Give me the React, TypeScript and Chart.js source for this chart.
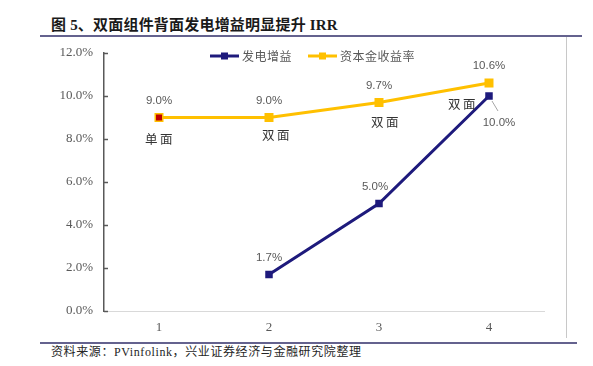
import React, { useEffect, useRef } from "react";
import { Chart, registerables } from "chart.js";

Chart.register(...registerables);

const categories = ["1", "2", "3", "4"];
const gainValues: (number | null)[] = [null, 1.7, 5.0, 10.0];
const irrValues = [9.0, 9.0, 9.7, 10.6];
const surfaceLabels = ["单面", "双面", "双面", "双面"];
const yTicks = [0, 2, 4, 6, 8, 10, 12];
const seriesNames = ["发电增益", "资本金收益率"];
const titleText = "图 5、双面组件背面发电增益明显提升 IRR";
const sourceText = "资料来源：PVinfolink，兴业证券经济与金融研究院整理";

const NAVY = "#1E1A7C";
const YELLOW = "#FFC000";
const RED = "#C00000";

// label offsets (dx, dy) relative to points
const irrLabelOffsets = [[0, -17], [0, -17], [0, -17], [0, -17]];
const surfaceOffsets = [[0, 22], [7, 18], [6, 20], [-27, 21]];
const gainLabelOffsets = [[0, 0], [0, -17], [-4, -17], [10, 27]];

const labelsPlugin = {
  id: "customLabels",
  afterDatasetsDraw(chart: any) {
    const ctx = chart.ctx;
    ctx.save();
    ctx.textAlign = "center";
    ctx.textBaseline = "middle";
    const gainMeta = chart.getDatasetMeta(0);
    const irrMeta = chart.getDatasetMeta(1);
    ctx.fillStyle = "#595959";
    ctx.font = "11.5px 'Liberation Sans', Arial, sans-serif";
    irrMeta.data.forEach((pt: any, i: number) => {
      const v = irrValues[i];
      ctx.fillText(v.toFixed(1) + "%", pt.x + irrLabelOffsets[i][0], pt.y + irrLabelOffsets[i][1]);
    });
    gainMeta.data.forEach((pt: any, i: number) => {
      const v = gainValues[i];
      if (v == null || pt.skip) return;
      ctx.fillText(v.toFixed(1) + "%", pt.x + gainLabelOffsets[i][0], pt.y + gainLabelOffsets[i][1]);
      if (i === 3) {
        ctx.strokeStyle = "#a6a6a6";
        ctx.lineWidth = 1;
        ctx.beginPath();
        ctx.moveTo(pt.x + 3, pt.y + 5);
        ctx.lineTo(pt.x + 9, pt.y + 15);
        ctx.stroke();
      }
    });
    ctx.fillStyle = "#333333";
    ctx.font = "12.5px 'Noto Sans CJK SC', sans-serif";
    (ctx as any).letterSpacing = "2.5px";
    irrMeta.data.forEach((pt: any, i: number) => {
      ctx.fillText(surfaceLabels[i], pt.x + surfaceOffsets[i][0] + 1, pt.y + surfaceOffsets[i][1]);
    });
    (ctx as any).letterSpacing = "0px";
    ctx.restore();
  },
};

const axisTicksPlugin = {
  id: "innerTicks",
  afterDraw(chart: any) {
    const ctx = chart.ctx;
    const y = chart.scales.y;
    ctx.save();
    ctx.strokeStyle = "#595959";
    ctx.lineWidth = 1.5;
    y.ticks.forEach((t: any) => {
      const py = Math.round(y.getPixelForValue(t.value)) + 0.5;
      ctx.beginPath();
      ctx.moveTo(y.right, py);
      ctx.lineTo(y.right + 4, py);
      ctx.stroke();
    });
    ctx.restore();
  },
};

const legendPlugin = {
  id: "customLegend",
  afterDraw(chart: any) {
    const ctx = chart.ctx;
    ctx.save();
    const cy = 56;
    const items = [
      { x0: 210, x1: 239, tx: 242, color: NAVY, name: seriesNames[0] },
      { x0: 308, x1: 337, tx: 340, color: YELLOW, name: seriesNames[1] },
    ];
    items.forEach((it) => {
      ctx.strokeStyle = it.color;
      ctx.lineWidth = 3;
      ctx.beginPath();
      ctx.moveTo(it.x0, cy);
      ctx.lineTo(it.x1, cy);
      ctx.stroke();
      ctx.fillStyle = it.color;
      const mx = (it.x0 + it.x1) / 2;
      ctx.fillRect(mx - 3.5, cy - 3.5, 7, 7);
      ctx.fillStyle = "#595959";
      ctx.font = "12px 'Noto Sans CJK SC', sans-serif";
      (ctx as any).letterSpacing = "0.5px";
      ctx.textAlign = "left";
      ctx.textBaseline = "middle";
      ctx.fillText(it.name, it.tx, cy);
    });
    ctx.restore();
  },
};

function App() {
  const canvasRef = useRef<HTMLCanvasElement | null>(null);

  useEffect(() => {
    if (!canvasRef.current) return;
    const chart = new Chart(canvasRef.current, {
      type: "line",
      data: {
        labels: categories,
        datasets: [
          {
            label: seriesNames[0],
            data: gainValues,
            borderColor: NAVY,
            backgroundColor: NAVY,
            borderWidth: 3,
            pointStyle: "rect",
            pointRadius: 5.3,
            pointBackgroundColor: NAVY,
            pointBorderColor: NAVY,
            pointBorderWidth: 0,
            tension: 0,
            spanGaps: false,
          },
          {
            label: seriesNames[1],
            data: irrValues,
            borderColor: YELLOW,
            backgroundColor: YELLOW,
            borderWidth: 3,
            pointStyle: "rect",
            pointRadius: 5.3,
            pointBackgroundColor: [RED, YELLOW, YELLOW, YELLOW],
            pointBorderColor: YELLOW,
            pointBorderWidth: 1.5,
            tension: 0,
          },
        ],
      },
      options: {
        responsive: false,
        animation: false,
        layout: { padding: { left: 0, right: 49, top: 53, bottom: 0 } },
        plugins: {
          legend: { display: false },
          tooltip: { enabled: false },
        },
        scales: {
          x: {
            type: "category",
            offset: true,
            grid: { display: false, drawTicks: false },
            border: { display: true, color: "#d9d9d9", width: 1 },
            ticks: {
              color: "#595959",
              padding: 9,
              font: { family: "'Liberation Serif', 'Times New Roman', serif", size: 13 },
            },
            afterFit: (s: any) => {
              s.height = 55;
            },
          },
          y: {
            min: 0,
            max: 12,
            afterBuildTicks: (s: any) => {
              s.ticks = yTicks.map((v) => ({ value: v }));
            },
            grid: { display: false, drawTicks: false },
            border: { display: true, color: "#595959", width: 1.5 },
            ticks: {
              color: "#595959",
              padding: 11,
              font: { family: "'Liberation Serif', 'Times New Roman', serif", size: 13 },
              callback: (v: any) => Number(v).toFixed(1) + "%",
            },
            afterFit: (s: any) => {
              s.width = 104;
            },
          },
        },
      },
      plugins: [labelsPlugin, axisTicksPlugin, legendPlugin],
    });
    return () => chart.destroy();
  }, []);

  return (
    <div
      style={{
        position: "absolute",
        left: 0,
        top: 0,
        width: 593,
        height: 366,
        background: "#ffffff",
        overflow: "hidden",
      }}
    >
      <div
        style={{
          position: "absolute",
          left: 51,
          top: 15,
          fontFamily: "'Liberation Serif', 'Noto Sans CJK SC', serif",
          fontWeight: "bold",
          fontSize: 15,
          lineHeight: "20px",
          color: "#1a1a1a",
          whiteSpace: "pre",
          letterSpacing: "0.2px",
        }}
      >
        {titleText}
      </div>
      <div style={{ position: "absolute", left: 40, top: 35, width: 542, height: 2, background: "#64628E" }} />
      <div style={{ position: "absolute", left: 566, top: 37, width: 1, height: 301, background: "#c8c8c8" }} />
      <div style={{ position: "absolute", left: 40, top: 342, width: 537, height: 2, background: "#64628E" }} />
      <div
        style={{
          position: "absolute",
          left: 51,
          top: 344,
          fontFamily: "'Liberation Serif', 'Noto Sans CJK SC', serif",
          fontSize: 12,
          lineHeight: "16px",
          color: "#262626",
          whiteSpace: "nowrap",
          letterSpacing: "0.6px",
        }}
      >
        {sourceText}
      </div>
      <canvas
        ref={canvasRef}
        width={593}
        height={366}
        style={{ position: "absolute", left: 0, top: 0, width: 593, height: 366 }}
      />
    </div>
  );
}

export default App;
